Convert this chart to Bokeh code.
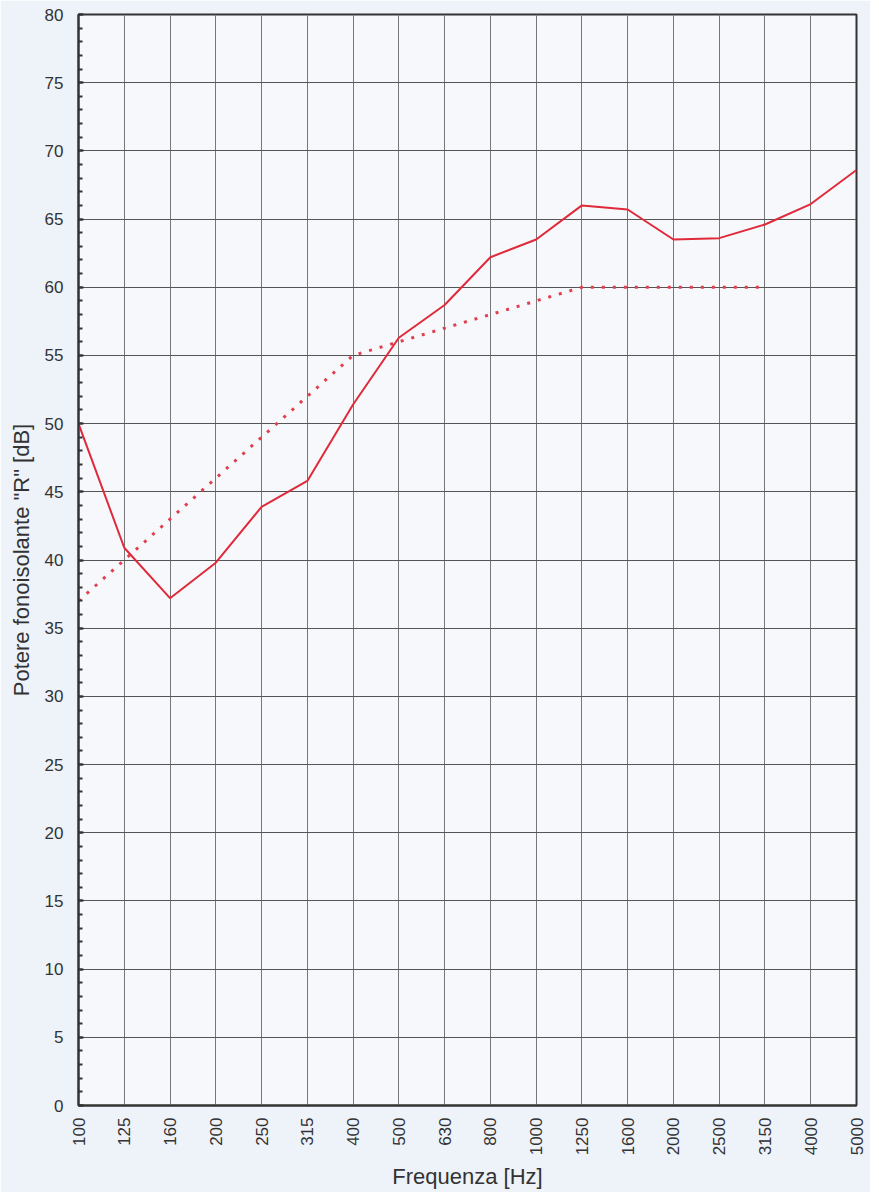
from bokeh.plotting import figure
from bokeh.embed import file_html
from bokeh.resources import INLINE
from bokeh.models import SingleIntervalTicker, FixedTicker, Range1d

freqs = ["100", "125", "160", "200", "250", "315", "400", "500", "630", "800",
         "1000", "1250", "1600", "2000", "2500", "3150", "4000", "5000"]
measured = [50.0, 40.9, 37.2, 39.8, 43.9, 45.8, 51.4, 56.3, 58.7, 62.2,
            63.5, 66.0, 65.7, 63.5, 63.6, 64.6, 66.1, 68.6]
ref_freqs = ["100", "125", "160", "200", "250", "315", "400", "500", "630", "800",
             "1000", "1250", "1600", "2000", "2500", "3150"]
reference = [37, 40, 43, 46, 49, 52, 55, 56, 57, 58, 59, 60, 60, 60, 60, 60]

xi = list(range(len(freqs)))
xr = [freqs.index(f) for f in ref_freqs]

p = figure(width=870, height=1192, output_backend="svg", toolbar_location=None,
           x_range=Range1d(0, len(freqs) - 1), y_range=Range1d(0, 80),
           min_border_left=78, min_border_right=14, min_border_top=14, min_border_bottom=87)
p.background_fill_color = "#f6f8fc"
p.border_fill_color = "#eef2f9"
p.outline_line_color = "#333333"
p.outline_line_width = 2

p.line(xr, reference, line_color="#e0404e", line_width=3, line_dash="3 8")
p.line(xi, measured, line_color="#e02a3a", line_width=2)

p.xaxis.ticker = FixedTicker(ticks=xi)
p.xaxis.major_label_overrides = {i: f for i, f in enumerate(freqs)}
p.xaxis.major_label_orientation = 1.5708
p.xaxis.major_tick_line_color = None
p.xaxis.minor_tick_line_color = None
p.xaxis.axis_line_color = "#333333"
p.xaxis.axis_line_width = 2
p.xaxis.axis_label = "Frequenza [Hz]"

p.yaxis.ticker = SingleIntervalTicker(interval=5, num_minor_ticks=5)
p.yaxis.major_tick_in = 5
p.yaxis.major_tick_out = 0
p.yaxis.minor_tick_in = 4
p.yaxis.minor_tick_out = 0
p.yaxis.major_tick_line_color = "#333333"
p.yaxis.minor_tick_line_color = "#333333"
p.yaxis.major_tick_line_width = 2
p.yaxis.minor_tick_line_width = 2
p.yaxis.axis_line_color = "#333333"
p.yaxis.axis_line_width = 2
p.yaxis.axis_label = 'Potere fonoisolante "R" [dB]'

for ax in (p.xaxis, p.yaxis):
    ax.major_label_text_font = "Liberation Sans"
    ax.major_label_text_font_size = "17px"
    ax.major_label_text_color = "#333333"
    ax.axis_label_text_font = "Liberation Sans"
    ax.axis_label_text_font_size = "22px"
    ax.axis_label_text_font_style = "normal"
    ax.axis_label_text_color = "#333333"
p.xaxis.major_label_standoff = 6
p.yaxis.major_label_standoff = 15
p.xaxis.axis_label_standoff = 6
p.yaxis.axis_label_standoff = 8

p.xgrid.ticker = FixedTicker(ticks=xi)
p.xgrid.grid_line_color = "#777777"
p.xgrid.grid_line_width = 1
p.ygrid.grid_line_color = "#555555"
p.ygrid.grid_line_width = 1

open("out.html", "w").write(file_html(p, INLINE))
